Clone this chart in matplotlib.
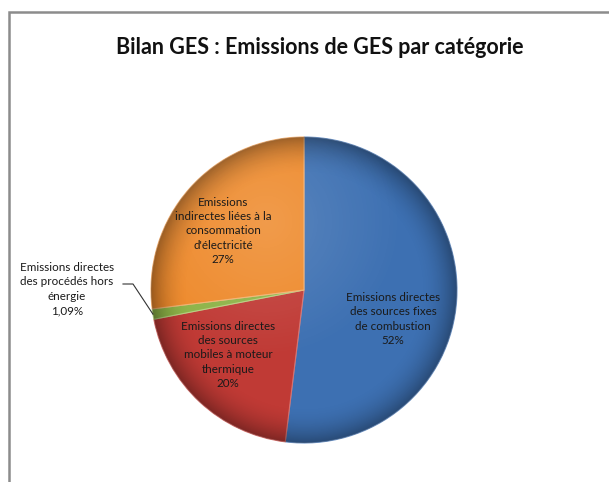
import numpy as np
import matplotlib
matplotlib.use("Agg")
import matplotlib.pyplot as plt
from matplotlib.patches import Circle

# data (percent)
categories = [
    "Emissions directes\ndes sources fixes\nde combustion",
    "Emissions directes\ndes sources\nmobiles à moteur\nthermique",
    "Emissions directes\ndes procédés hors\nénergie",
    "Emissions\nindirectes liées à la\nconsommation\nd'électricité",
]
values = [52, 20, 1.09, 27]
pct_labels = ["52%", "20%", "1,09%", "27%"]

colors = ["#3d70b2", "#c03a35", "#8db347", "#ee8a2c"]
edge_colors = ["#6f95c8", "#d8716d", "#b5d17f", "#f5b070"]

# label centres in pixel coords (y down)
label_pos = [(393, 319), (228, 355), (67, 289), (223, 231)]

W, H = 609, 482
cx, cy, R = 304, H - 290, 153

fig = plt.figure(figsize=(W / 100, H / 100), dpi=100)
ax = fig.add_axes([0, 0, 1, 1])
plt.rcParams["font.family"] = ["Lato", "DejaVu Sans"]

wedges, _ = ax.pie(values, colors=colors, startangle=90, counterclock=False,
                   center=(cx, cy), radius=R, frame=True,
                   wedgeprops=dict(linewidth=0.8))
for w, ec in zip(wedges, edge_colors):
    w.set_edgecolor(ec)

# Excel-like shading: darker rim, lighter top-left
yy, xx = np.mgrid[0:H, 0:W]
yy = H - yy
rr = np.hypot(xx - cx, yy - cy) / R
shade = np.zeros((H, W, 4))
shade[..., 3] = np.clip((rr - 0.75) / 0.25, 0, 1) ** 2 * 0.35
img = ax.imshow(shade, extent=(0, W, 0, H), origin="upper", zorder=3,
                interpolation="bilinear")
img.set_clip_path(Circle((cx, cy), R, transform=ax.transData))
hl = np.ones((H, W, 4))
hl[..., 3] = np.clip(1 - np.hypot(xx - (cx - 0.25 * R), yy - (cy + 0.45 * R)) / (0.9 * R), 0, 1) * 0.15
img2 = ax.imshow(hl, extent=(0, W, 0, H), origin="upper", zorder=3,
                 interpolation="bilinear")
img2.set_clip_path(Circle((cx, cy), R, transform=ax.transData))

for i, (cat, pct) in enumerate(zip(categories, pct_labels)):
    x, y = label_pos[i]
    ax.text(x, H - y, cat + "\n" + pct, ha="center", va="center",
            fontsize=8.4, linespacing=1.38, color="#1a1a1a", zorder=5)

# leader line for the small slice
w = wedges[2]
mid = np.deg2rad((w.theta1 + w.theta2) / 2)
ex, ey = cx + R * np.cos(mid), cy + R * np.sin(mid)
ax.plot([123, 133, ex], [H - 284, H - 284, ey], color="#333333", lw=0.8, zorder=5)

ax.text(320, H - 48, "Bilan GES : Emissions de GES par catégorie",
        ha="center", va="center", fontsize=15.5, fontweight="bold",
        color="#111111")

# chart frame
ax.plot([9, 9, W + 5], [-5, H - 12, H - 12], color="#8c8c8c", lw=1.8,
        solid_joinstyle="miter")

ax.set_xlim(0, W)
ax.set_ylim(0, H)
ax.set_aspect("equal")
ax.axis("off")

fig.savefig("out.png", dpi=100)
